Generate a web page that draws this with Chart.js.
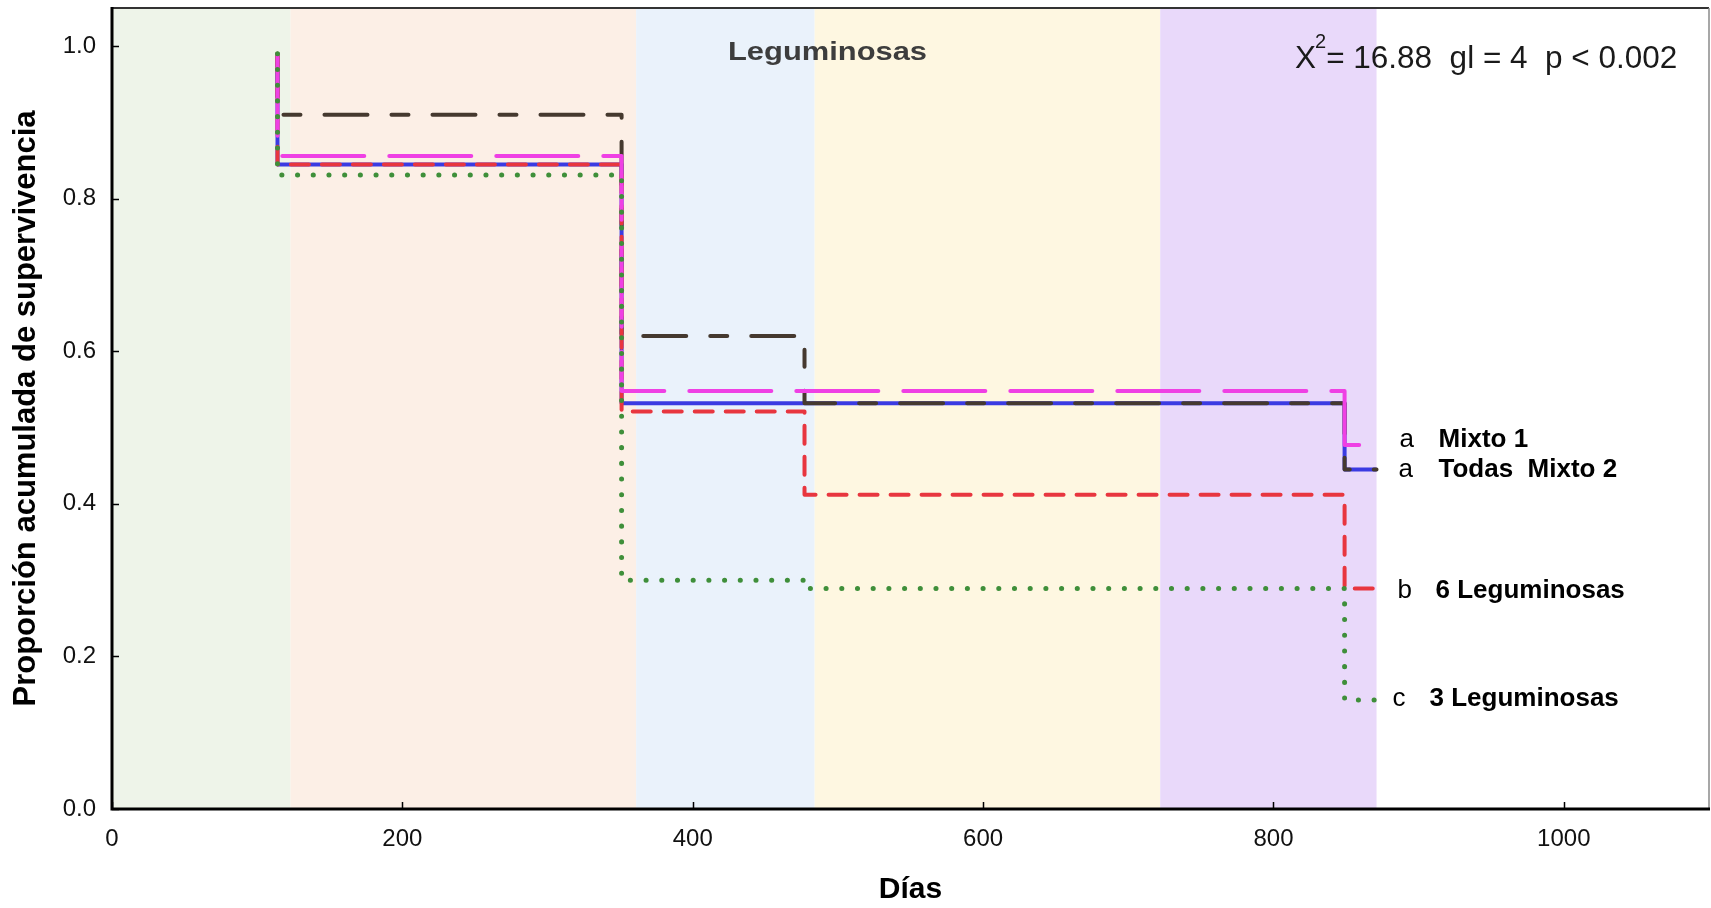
<!DOCTYPE html>
<html>
<head>
<meta charset="utf-8">
<title>Supervivencia - Leguminosas</title>
<script src="https://cdn.jsdelivr.net/npm/chart.js@4.4.1/dist/chart.umd.min.js"></script>
<style>
  html, body { margin: 0; padding: 0; background: #fff; }
  #wrap { width: 1711px; height: 908px; }
</style>
</head>
<body>
<div id="wrap"><canvas id="surv" width="1711" height="908"></canvas></div>
<script>
// días y proporción acumulada de supervivencia por tratamiento (Kaplan-Meier)
const diasMixto1 = [114, 114, 351, 849, 871];
const survMixto1 = [0.99, 0.856, 0.548, 0.477, 0.477];

const diasTodas = [114, 114, 351, 849, 871];
const survTodas = [0.99, 0.845, 0.532, 0.445, 0.445];

const diasMixto2 = [114, 114, 351, 477, 849, 871];
const survMixto2 = [0.99, 0.91, 0.62, 0.532, 0.445, 0.445];

const dias6Leg = [114, 114, 351, 477, 849, 871];
const surv6Leg = [0.99, 0.845, 0.521, 0.412, 0.289, 0.289];

const dias3Leg = [114, 114, 351, 479, 849, 871];
const surv3Leg = [0.99, 0.831, 0.300, 0.289, 0.143, 0.143];

// etapas del ensayo, límites en días
const etapas = [0, 123, 361, 484, 722, 871];

const xTicks = [0, 200, 400, 600, 800, 1000];
const yTicks = [0, 0.2, 0.4, 0.6, 0.8, 1.0];

const letras = ['a', 'a', 'b', 'c'];
const grupos = ['Mixto 1', 'Todas  Mixto 2', '6 Leguminosas', '3 Leguminosas'];

const FONT = "'Liberation Sans', Arial, sans-serif";

function puntos(dias, surv) {
  return dias.map((d, i) => ({ x: d, y: surv[i] }));
}

const etapaColores = ['#eef4e9', '#fcefe6', '#eaf2fb', '#fef7e1', '#e9d9fa'];

const fondoEtapas = {
  id: 'fondoEtapas',
  beforeDatasetsDraw(chart) {
    const { ctx, chartArea: a, scales: { x } } = chart;
    ctx.save();
    for (let i = 0; i < etapas.length - 1; i++) {
      const x0 = x.getPixelForValue(etapas[i]);
      const x1 = x.getPixelForValue(etapas[i + 1]);
      ctx.fillStyle = etapaColores[i];
      ctx.fillRect(x0, a.top, x1 - x0, a.bottom - a.top);
    }
    ctx.restore();
  }
};

const marco = {
  id: 'marco',
  afterDatasetsDraw(chart) {
    const { ctx, chartArea: a, scales: { x, y } } = chart;
    ctx.save();
    ctx.lineCap = 'butt';
    ctx.strokeStyle = '#333';
    ctx.lineWidth = 2;
    ctx.beginPath();
    ctx.moveTo(a.left, a.top);
    ctx.lineTo(a.right, a.top);
    ctx.stroke();
    ctx.strokeStyle = '#8a8a8a';
    ctx.lineWidth = 1.5;
    ctx.beginPath();
    ctx.moveTo(a.right, a.top);
    ctx.lineTo(a.right, a.bottom);
    ctx.stroke();
    ctx.strokeStyle = '#000';
    ctx.lineWidth = 3;
    ctx.beginPath();
    ctx.moveTo(a.left, a.top - 1);
    ctx.lineTo(a.left, a.bottom);
    ctx.lineTo(a.right + 1, a.bottom);
    ctx.stroke();
    // marcas de los ejes hacia adentro
    ctx.lineWidth = 1.5;
    ctx.beginPath();
    x.ticks.forEach(t => {
      const px = Math.round(x.getPixelForValue(t.value)) + 0.5;
      ctx.moveTo(px, a.bottom);
      ctx.lineTo(px, a.bottom - 7);
    });
    y.ticks.forEach(t => {
      const py = Math.round(y.getPixelForValue(t.value)) + 0.5;
      ctx.moveTo(a.left, py);
      ctx.lineTo(a.left + 7, py);
    });
    ctx.stroke();
    ctx.restore();
  }
};

const textos = {
  id: 'textos',
  afterDraw(chart) {
    const { ctx, scales: { x, y } } = chart;
    ctx.save();
    ctx.textBaseline = 'alphabetic';

    // título del panel, algo ensanchado
    ctx.fillStyle = '#3d3d3d';
    ctx.font = 'bold 25px ' + FONT;
    const titulo = 'Leguminosas';
    const w = ctx.measureText(titulo).width;
    ctx.save();
    ctx.translate(827.5, 60);
    ctx.scale(199 / w, 1);
    ctx.textAlign = 'center';
    ctx.fillText(titulo, 0, 0);
    ctx.restore();

    // prueba de log-rank
    ctx.fillStyle = '#1a1a1a';
    ctx.textAlign = 'left';
    ctx.font = '31.5px ' + FONT;
    let px = 1295;
    ctx.fillText('X', px, 68);
    px += ctx.measureText('X').width - 1;
    ctx.font = '20px ' + FONT;
    ctx.fillText('2', px, 48);
    px += ctx.measureText('2').width;
    ctx.font = '31.5px ' + FONT;
    ctx.fillText('= 16.88  gl = 4  p < 0.002', px, 68);

    // letras y nombres al final de cada curva
    const finales = [survMixto1, survTodas, surv6Leg, surv3Leg].map(s => s[s.length - 1]);
    const dy = [2, 7, 9, 6];
    const dxLetra = [23, 22, 21, 16];
    const dxNombre = [62, 62, 59, 53];
    const xFin = x.getPixelForValue(diasMixto1[diasMixto1.length - 1]);
    ctx.fillStyle = '#000';
    finales.forEach((v, i) => {
      const py = y.getPixelForValue(v) + dy[i];
      ctx.font = '26px ' + FONT;
      ctx.fillText(letras[i], xFin + dxLetra[i], py);
      ctx.font = 'bold 26px ' + FONT;
      ctx.fillText(grupos[i], xFin + dxNombre[i], py);
    });
    ctx.restore();
  }
};

const base = {
  pointRadius: 0,
  pointHoverRadius: 0,
  borderWidth: 4,
  stepped: 'before',
  tension: 0,
  fill: false,
  borderCapStyle: 'round',
  borderJoinStyle: 'round'
};

new Chart(document.getElementById('surv'), {
  type: 'line',
  data: {
    datasets: [
      Object.assign({}, base, {
        label: '3 Leguminosas',
        data: puntos(dias3Leg, surv3Leg),
        borderColor: '#3f8f3a',
        borderWidth: 5,
        borderDash: [0.1, 15.6],
        order: 0
      }),
      Object.assign({}, base, {
        label: 'Mixto 1',
        data: puntos(diasMixto1, survMixto1),
        borderColor: '#ef40e4',
        borderDash: [82, 25],
        order: 1
      }),
      Object.assign({}, base, {
        label: '6 Leguminosas',
        data: puntos(dias6Leg, surv6Leg),
        borderColor: '#e8363f',
        borderDash: [18, 13],
        order: 2
      }),
      Object.assign({}, base, {
        label: 'Mixto 2',
        data: puntos(diasMixto2, survMixto2),
        borderColor: '#45392f',
        borderDash: [43, 24, 17, 24],
        order: 3
      }),
      Object.assign({}, base, {
        label: 'Todas',
        data: puntos(diasTodas, survTodas),
        borderColor: '#3b3be2',
        borderCapStyle: 'butt',
        order: 4
      })
    ]
  },
  options: {
    responsive: false,
    devicePixelRatio: 1,
    animation: false,
    layout: { padding: { top: 8, right: 2, left: 0, bottom: 0 } },
    plugins: {
      legend: { display: false },
      tooltip: { enabled: false }
    },
    scales: {
      x: {
        type: 'linear',
        position: 'bottom',
        min: 0,
        max: 1100,
        grid: { display: false },
        border: { display: false },
        afterBuildTicks: s => { s.ticks = xTicks.map(v => ({ value: v })); },
        afterFit: s => { s.height = 99; s.paddingLeft = 0; s.paddingRight = 0; },
        ticks: {
          padding: 8,
          color: '#111',
          font: { family: FONT, size: 24 },
          maxRotation: 0,
          callback: v => String(v)
        },
        title: {
          display: true,
          text: 'Días',
          color: '#000',
          font: { family: FONT, size: 30, weight: 'bold' },
          padding: { top: 0, bottom: 0 }
        }
      },
      y: {
        type: 'linear',
        min: 0,
        max: 1.05,
        grid: { display: false },
        border: { display: false },
        afterBuildTicks: s => { s.ticks = yTicks.map(v => ({ value: v })); },
        afterFit: s => { s.width = 112; s.paddingTop = 0; s.paddingBottom = 0; },
        ticks: {
          padding: 8,
          color: '#111',
          font: { family: FONT, size: 24 },
          callback: v => Number(v).toFixed(1)
        },
        title: {
          display: true,
          text: 'Proporción acumulada de supervivencia',
          color: '#000',
          font: { family: FONT, size: 31, weight: 'bold' },
          padding: { top: 8, bottom: 0 }
        }
      }
    }
  },
  plugins: [fondoEtapas, marco, textos]
});
</script>
</body>
</html>
